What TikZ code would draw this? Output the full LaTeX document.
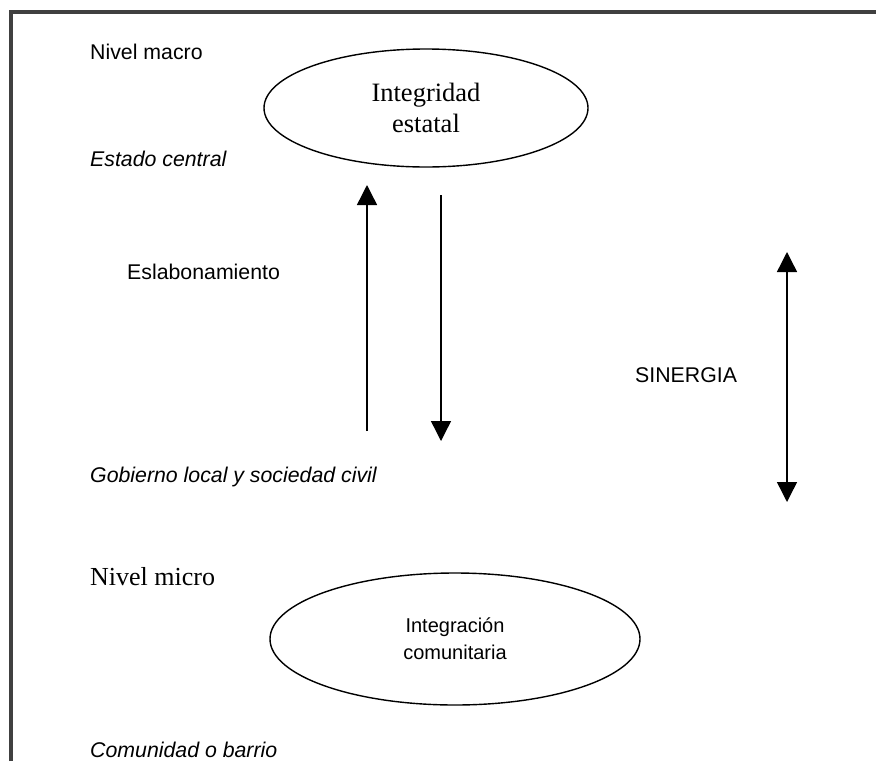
\documentclass[tikz,border=0pt]{standalone}
\usepackage{fontspec}
\setmainfont{Liberation Serif}
\setsansfont{Liberation Sans}
\usetikzlibrary{arrows.meta, shapes.geometric}

\tikzset{
    etiqueta/.style={anchor=base west, inner sep=0pt, font=\sffamily\fontsize{21.3}{25}\selectfont},
    etiquetait/.style={etiqueta, font=\sffamily\itshape\fontsize{21.3}{25}\selectfont},
    nivel/.style={anchor=base west, inner sep=0pt, font=\fontsize{26}{31}\selectfont},
    ovalo/.style={draw, ellipse, line width=1.4pt, inner sep=0pt, align=center},
    flecha/.style={line width=1.4pt, -{Triangle[width=20pt,length=20pt]}}
}

\begin{document}
\begin{tikzpicture}[x=1pt, y=-1pt]
    \useasboundingbox (0,0) rectangle (876,761);

    % Marco
    \draw[line width=3.5pt, black!75] (11,761) -- (11,12) -- (876,12);

    % Nivel macro
    \node[etiqueta] (macro) at (90,59) {Nivel macro};
    \node[ovalo, minimum width=324pt, minimum height=118pt, font=\fontsize{26.5}{31}\selectfont]
        (estatal) at (426,108) {Integridad\\estatal};
    \node[etiquetait] (central) at (90,166) {Estado central};

    % Eslabonamiento
    \node[etiqueta] (eslabon) at (127,279) {Eslabonamiento};
    \coordinate (subeA) at (367,431);
    \coordinate (subeB) at (367,185);
    \coordinate (bajaA) at (441,195);
    \coordinate (bajaB) at (441,441);
    \draw[flecha] (subeA) -- (subeB);
    \draw[flecha] (bajaA) -- (bajaB);

    % Sinergia
    \node[etiqueta] (sinergia) at (635,382) {SINERGIA};
    \coordinate (sinA) at (787,252);
    \coordinate (sinB) at (787,502);
    \draw[flecha, {Triangle[width=20pt,length=20pt]}-{Triangle[width=20pt,length=20pt]}] (sinA) -- (sinB);

    \node[etiquetait] (gobierno) at (90,482) {Gobierno local y sociedad civil};

    % Nivel micro
    \node[nivel] (micro) at (90,585) {Nivel micro};
    \node[ovalo, minimum width=370pt, minimum height=132pt, font=\sffamily\fontsize{20}{27}\selectfont]
        (comunitaria) at (455,639) {Integración\\comunitaria};
    \node[etiquetait] (barrio) at (90,757) {Comunidad o barrio};
\end{tikzpicture}
\end{document}
